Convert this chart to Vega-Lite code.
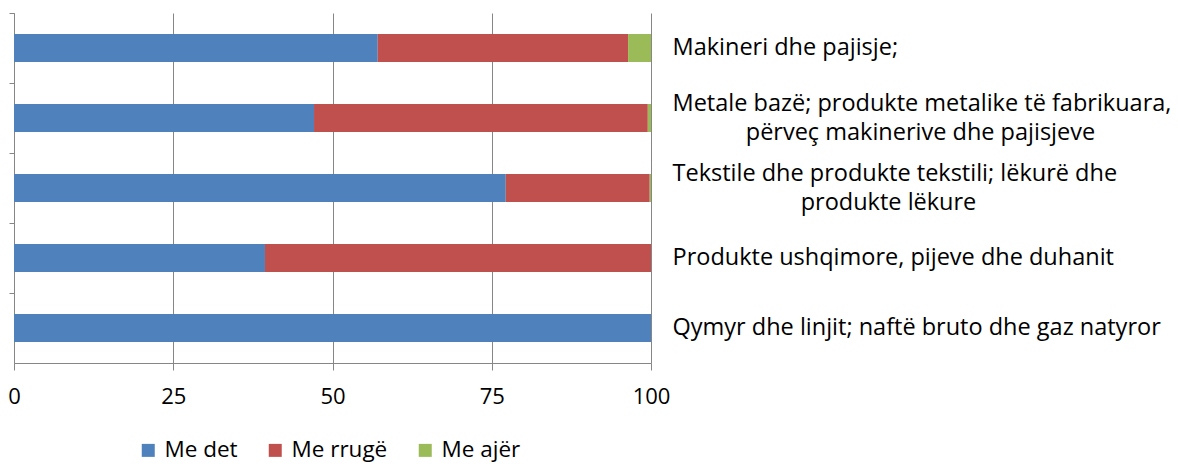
{
  "$schema": "https://vega.github.io/schema/vega-lite/v6.json",
  "width": 637,
  "height": 350,
  "padding": {"left": 7, "top": 12, "right": 5, "bottom": 5},
  "background": "white",
  "config": {
    "font": "Open Sans",
    "view": {"stroke": null}
  },
  "data": {
    "values": [
      {"cat": "Makineri dhe pajisje;", "mode": "Me det", "idx": 1, "value": 57.1},
      {"cat": "Makineri dhe pajisje;", "mode": "Me rrugë", "idx": 2, "value": 39.3},
      {"cat": "Makineri dhe pajisje;", "mode": "Me ajër", "idx": 3, "value": 3.6},
      {"cat": "Metale bazë; produkte metalike të fabrikuara, përveç makinerive dhe pajisjeve", "mode": "Me det", "idx": 1, "value": 47.1},
      {"cat": "Metale bazë; produkte metalike të fabrikuara, përveç makinerive dhe pajisjeve", "mode": "Me rrugë", "idx": 2, "value": 52.4},
      {"cat": "Metale bazë; produkte metalike të fabrikuara, përveç makinerive dhe pajisjeve", "mode": "Me ajër", "idx": 3, "value": 0.5},
      {"cat": "Tekstile dhe produkte tekstili; lëkurë dhe produkte lëkure", "mode": "Me det", "idx": 1, "value": 77.2},
      {"cat": "Tekstile dhe produkte tekstili; lëkurë dhe produkte lëkure", "mode": "Me rrugë", "idx": 2, "value": 22.6},
      {"cat": "Tekstile dhe produkte tekstili; lëkurë dhe produkte lëkure", "mode": "Me ajër", "idx": 3, "value": 0.2},
      {"cat": "Produkte ushqimore, pijeve dhe duhanit", "mode": "Me det", "idx": 1, "value": 39.4},
      {"cat": "Produkte ushqimore, pijeve dhe duhanit", "mode": "Me rrugë", "idx": 2, "value": 60.6},
      {"cat": "Qymyr dhe linjit; naftë bruto dhe gaz natyror", "mode": "Me det", "idx": 1, "value": 100}
    ]
  },
  "layer": [
    {
      "mark": {"type": "bar"},
      "encoding": {
        "y": {
          "field": "cat", "type": "nominal", "sort": null,
          "scale": {"paddingInner": 0.6, "paddingOuter": 0.3},
          "axis": {
            "orient": "left", "title": null, "labels": false,
            "ticks": true, "tickSize": 5, "tickColor": "#868686",
            "domain": true, "domainColor": "#868686",
            "bandPosition": -0.75, "grid": false
          }
        },
        "x": {
          "field": "value", "type": "quantitative", "stack": "zero",
          "scale": {"domain": [0, 100], "nice": false},
          "axis": {
            "title": null, "values": [0, 25, 50, 75, 100],
            "grid": true, "gridColor": "#868686", "gridWidth": 1,
            "domainColor": "#868686", "tickColor": "#868686", "tickSize": 7,
            "labelFontSize": 22, "labelColor": "#000000", "labelPadding": 16,
            "labelFlush": false
          }
        },
        "color": {
          "field": "mode", "type": "nominal",
          "scale": {"domain": ["Me det", "Me rrugë", "Me ajër"], "range": ["#4F81BD", "#C0504D", "#9BBB59"]},
          "legend": {
            "title": null, "orient": "none", "direction": "horizontal",
            "legendX": 123, "legendY": 426,
            "symbolType": "square", "symbolSize": 169, "symbolStrokeWidth": 0,
            "labelFontSize": 22.5, "labelColor": "#000000", "labelOffset": 5,
            "columnPadding": 26
          }
        },
        "order": {"field": "idx", "type": "quantitative"}
      }
    },
    {
      "mark": {"type": "bar", "opacity": 0},
      "encoding": {
        "y": {
          "field": "cat", "type": "nominal", "sort": null,
          "axis": {
            "orient": "right", "title": null, "domain": false, "ticks": false,
            "labelFontSize": 23.5, "labelColor": "#000000", "labelPadding": 21,
            "labelLineHeight": 29, "labelLimit": 600, "labelAlign": "left",
            "labelOffset": {"condition": {"test": "length(datum.label) > 50", "value": -14}, "value": 0},
            "labelExpr": "datum.label == 'Metale bazë; produkte metalike të fabrikuara, përveç makinerive dhe pajisjeve' ? ['Metale bazë; produkte metalike të fabrikuara,', '\u200b\u00a0\u00a0\u00a0\u00a0\u00a0\u00a0\u00a0\u00a0\u00a0\u00a0\u00a0\u00a0përveç makinerive dhe pajisjeve'] : datum.label == 'Tekstile dhe produkte tekstili; lëkurë dhe produkte lëkure' ? ['Tekstile dhe produkte tekstili; lëkurë dhe', '\u200b\u00a0\u00a0\u00a0\u00a0\u00a0\u00a0\u00a0\u00a0\u00a0\u00a0\u00a0\u00a0\u00a0\u00a0\u00a0\u00a0\u00a0\u00a0\u00a0\u00a0\u00a0produkte lëkure'] : datum.label"
          }
        },
        "x": {"field": "value", "type": "quantitative", "stack": "zero"},
        "order": {"field": "idx", "type": "quantitative"}
      }
    }
  ],
  "resolve": {"axis": {"y": "independent"}}
}
